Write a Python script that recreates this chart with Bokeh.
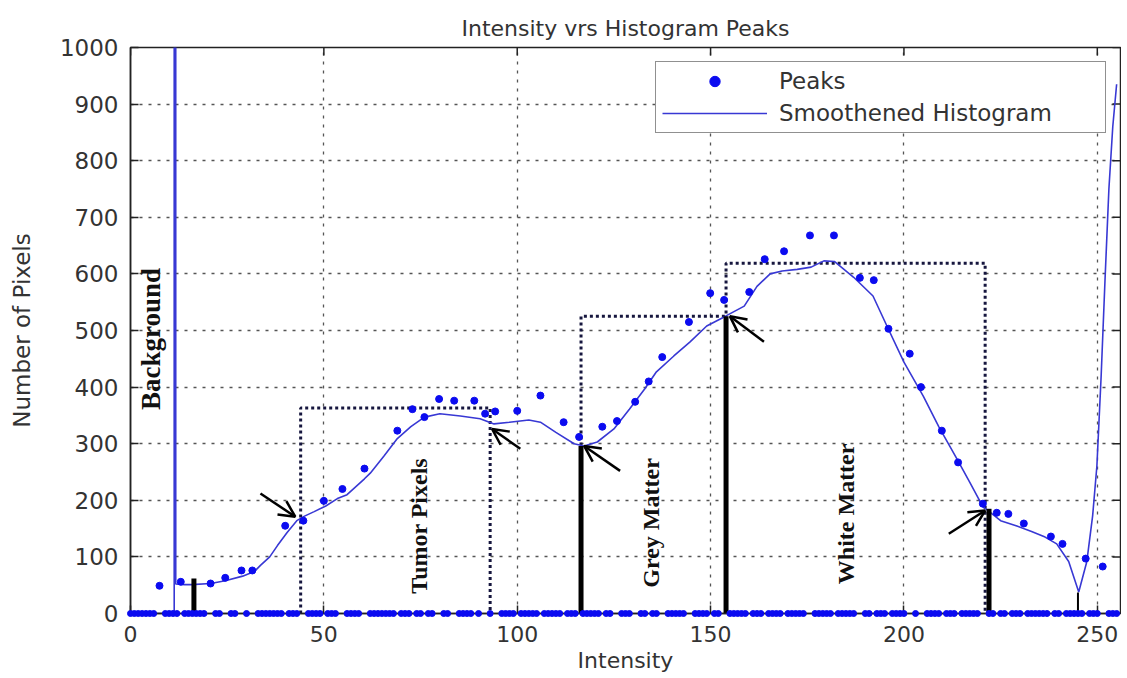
import math
from bokeh.plotting import figure
from bokeh.models import (Range1d, FixedTicker, Arrow, OpenHead,
                          Legend, LegendItem, ColumnDataSource)
from bokeh.embed import file_html
from bokeh.resources import INLINE
from bokeh.core.properties import value

# ---------------- data ----------------
x_ticks = [0, 50, 100, 150, 200, 250]
y_ticks = [0, 100, 200, 300, 400, 500, 600, 700, 800, 900, 1000]
x_min, x_max = 0, 256
y_min, y_max = 0, 1000

# Smoothened histogram (background spike near intensity 11-12 goes far off the top)
curve_x = [0, 11.3, 11.5, 11.7, 14, 15.8, 20.7, 24.5, 29, 32, 33.6, 36, 38, 40.5, 43, 45, 47.5, 50.5,
           53.5, 56, 60.5, 62, 65.5, 69, 72.5, 76, 80, 85.3, 90.4, 94, 98, 103, 106, 110, 114.7, 117.3,
           120.7, 125, 129, 133, 136, 140.5, 144.7, 149, 153.5, 158.7, 162, 165.4, 168.5, 172.4, 176,
           179.3, 182, 187, 192, 195.6, 200, 205, 209, 213.7, 217, 220.4, 225, 229, 233, 236.5, 239.5,
           242.6, 245.2, 247.3, 248.8, 249.9, 251, 252, 253, 254, 255]
curve_y = [0, 0, 100000, 52, 51, 51, 53, 58, 66, 74, 85, 100, 120, 143, 164, 172, 180, 190,
           203, 210, 238, 248, 278, 309, 330, 347, 353, 349, 344, 335, 338, 342, 338, 320, 300, 296,
           303, 326, 361, 397, 427, 455, 480, 508, 524, 543, 578, 600, 605, 608, 612,
           623, 622, 594, 561, 508, 444, 384, 330, 273, 232, 189, 164, 155, 145, 135, 123,
           92, 38, 92, 173, 261, 420, 590, 750, 860, 935]

# Peaks (non-zero)
peak_x = [7.5, 13, 20.7, 24.5, 28.7, 31.5, 40, 44.7, 50, 54.8, 60.5, 69, 72.9, 76, 79.8, 83.7, 88.9,
          91.7, 94.3, 100, 106, 112, 116, 122, 125.8, 130.5, 134, 137.5, 144.4, 149.9, 153.5, 160, 164,
          169, 175.7, 181.9, 188.6, 192.2, 196, 201.5, 204.4, 209.8, 214, 220.4, 224, 227, 231, 238,
          241, 247, 251.4]
peak_y = [49, 56, 53, 63, 76, 76, 155, 164, 199, 220, 256, 323, 361, 347, 379, 376, 376,
          353, 357, 358, 385, 338, 312, 330, 340, 374, 410, 453, 515, 566, 554, 568, 626,
          640, 668, 668, 593, 589, 503, 459, 400, 323, 267, 194, 178, 176, 159, 136,
          123, 97, 83]
# Peak markers lying on zero (all other intensity levels)
zero_x = [i for i in range(0, 256) if all(abs(i - px) > 0.8 for px in peak_x)]
zero_y = [0] * len(zero_x)

# Threshold bars
thresh_x = [16.4, 116.5, 154, 222, 245]
thresh_top = [62, 296, 525, 185, 37]
thresh_w = [5, 5, 5, 5, 2]

# Dotted class boxes
box_left = [44, 116.5, 154]
box_right = [93, 154, 221]
box_top = [363, 525, 619]

# Arrows (tail -> head)
arrow_tail_x = [33.6, 100.8, 126.6, 163.8, 211.6]
arrow_tail_y = [212, 291, 252, 480, 141]
arrow_head_x = [42.6, 93.5, 117.3, 155, 221]
arrow_head_y = [171, 326, 296, 525, 182]

# Region labels
region_labels = ["Background", "Tumor Pixels", "Grey Matter", "White Matter"]
label_x = [5.2, 74.7, 134.6, 185]
label_y = [485, 155, 160, 176]

# ---------------- figure ----------------
FW, FH = 990, 566
p = figure(frame_width=FW, frame_height=FH, output_backend="svg", toolbar_location=None,
           x_range=Range1d(x_min, x_max), y_range=Range1d(y_min, y_max),
           title="Intensity vrs Histogram Peaks",
           min_border_left=130, min_border_right=1, min_border_top=47, min_border_bottom=56)

p.title.align = "center"
p.title.vertical_align = "top"
p.title.text_font = "DejaVu Sans"
p.title.text_font_size = "22px"
p.title.text_font_style = "normal"
p.title.text_color = "#333333"

p.outline_line_color = "#222222"
p.outline_line_width = 1.5

for ax, ticks in ((p.xaxis, x_ticks), (p.yaxis, y_ticks)):
    ax.ticker = FixedTicker(ticks=ticks)
    ax.major_tick_in = 8
    ax.major_tick_out = 0
    ax.minor_tick_in = 0
    ax.minor_tick_out = 0
    ax.axis_line_color = "#222222"
    ax.axis_line_width = 1.5
    ax.major_tick_line_color = "#222222"
    ax.major_tick_line_width = 1.5
    ax.major_label_text_font = "DejaVu Sans"
    ax.major_label_text_color = "#333333"
    ax.axis_label_text_font = "DejaVu Sans"
    ax.axis_label_text_font_style = "normal"
    ax.axis_label_text_color = "#333333"

p.yaxis.major_label_text_font_size = "23px"
p.yaxis.axis_label_text_font_size = "23px"
p.xaxis.major_label_text_font_size = "22px"
p.xaxis.axis_label_text_font_size = "22px"
p.xaxis.axis_label = "Intensity"
p.yaxis.axis_label = "Number of Pixels"
p.xaxis.major_label_standoff = 12
p.xaxis.axis_label_standoff = 3
p.yaxis.major_label_standoff = 12
p.yaxis.axis_label_standoff = 22

# inward tick marks on the top and right edges of the box (from the tick lists)
tick_len_y = (y_max - y_min) * 8 / FH
tick_len_x = (x_max - x_min) * 8 / FW
p.segment(x0=x_ticks, y0=[y_max] * len(x_ticks), x1=x_ticks, y1=[y_max - tick_len_y] * len(x_ticks),
          line_color="#222222", line_width=1.5)
p.segment(x0=[x_max] * len(y_ticks), y0=y_ticks, x1=[x_max - tick_len_x] * len(y_ticks), y1=y_ticks,
          line_color="#222222", line_width=1.5)

for g, ticks in ((p.xgrid, x_ticks), (p.ygrid, y_ticks)):
    g.ticker = FixedTicker(ticks=ticks)
    g.grid_line_color = "#555555"
    g.grid_line_dash = "3 6"
    g.grid_line_width = 1.3

# dotted boxes
box_xs = [[l, l, r, r] for l, r in zip(box_left, box_right)]
box_ys = [[0, t, t, 0] for t in box_top]
p.multi_line(box_xs, box_ys, line_color="#16163e", line_width=3, line_dash="3 3")

# curve and peaks
curve = p.line(curve_x, curve_y, line_color="#3838d4", line_width=1.6)
peaks = p.scatter(peak_x, peak_y, size=7, color="#0b0bf0")

# threshold bars
bars = ColumnDataSource(dict(x=thresh_x, y0=[0] * len(thresh_x), y1=thresh_top, w=thresh_w))
p.segment(x0="x", y0="y0", x1="x", y1="y1", line_width="w", line_color="black", source=bars)

# zero peaks drawn over the axis
p.scatter(zero_x, zero_y, size=6, color="#0b0bf0", level="overlay")

# arrows
for tx, ty, hx, hy in zip(arrow_tail_x, arrow_tail_y, arrow_head_x, arrow_head_y):
    p.add_layout(Arrow(end=OpenHead(size=16, line_width=2.5, line_color="black"),
                       x_start=tx, y_start=ty, x_end=hx, y_end=hy,
                       line_width=2.5, line_color="black"))

# region labels
lab = ColumnDataSource(dict(x=label_x, y=label_y, text=region_labels,
                            fs=["27px", "24px", "24px", "24px"]))
p.text(x="x", y="y", text="text", source=lab, angle=math.pi / 2,
       text_align="center", text_baseline="middle",
       text_font=value("Liberation Serif"), text_font_style="bold",
       text_font_size="fs", text_color="#111111")

legend = Legend(items=[LegendItem(label="Peaks", renderers=[peaks]),
                       LegendItem(label="Smoothened Histogram", renderers=[curve])],
                location="top_right")
legend.label_text_font = "DejaVu Sans"
legend.label_text_font_size = "23px"
legend.label_text_color = "#333333"
legend.glyph_width = 105
legend.glyph_height = 26
legend.label_height = 26
legend.label_width = 320
legend.label_standoff = 12
legend.padding = 6
legend.spacing = 6
legend.margin = 14
legend.border_line_color = "#222222"
legend.border_line_width = 1.5
legend.background_fill_alpha = 1.0
p.add_layout(legend)

open("out.html", "w").write(file_html(p, INLINE))
